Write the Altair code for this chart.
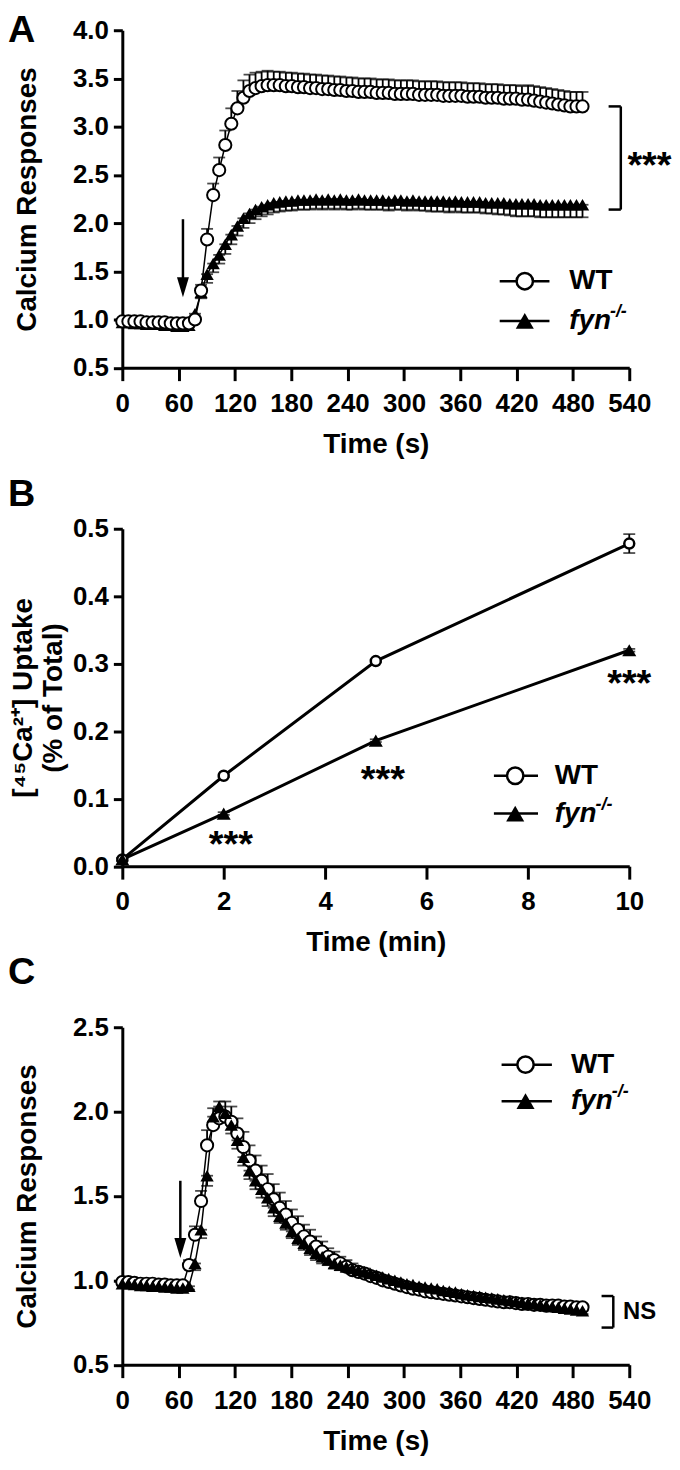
import altair as alt
import pandas as pd

FONT = "Liberation Sans"

# ---------------- shared sampling times (s) for panels A and C ----------------
time_s = [0, 6.5, 12.9, 19.4, 25.8, 32.3, 38.7, 45.2, 51.6, 58.1, 64.5,
          71.0, 77.4, 83.9, 90.3, 96.8, 103.2, 109.7, 116.1, 122.6, 129.0,
          135.5, 141.9, 148.4, 154.8, 161.3, 167.7, 174.2, 180.6, 187.1, 193.5,
          200.0, 206.4, 212.9, 219.3, 225.8, 232.2, 238.7, 245.1, 251.6, 258.0,
          264.5, 270.9, 277.4, 283.8, 290.3, 296.7, 303.2, 309.6, 316.1, 322.5,
          329.0, 335.4, 341.9, 348.3, 354.8, 361.2, 367.7, 374.1, 380.6, 387.0,
          393.5, 399.9, 406.4, 412.8, 419.3, 425.7, 432.2, 438.6, 445.1, 451.5,
          458.0, 464.4, 470.9, 477.3, 483.8, 490.2]

# ---------------- Panel A ----------------
a_wt = [0.98, 0.98, 0.98, 0.98, 0.97, 0.97, 0.97, 0.97, 0.96, 0.96, 0.96,
        0.96, 1.00, 1.30, 1.83, 2.29, 2.55, 2.81, 3.03, 3.19, 3.30,
        3.37, 3.40, 3.42, 3.43, 3.43, 3.43, 3.42, 3.42, 3.41, 3.41,
        3.40, 3.40, 3.39, 3.39, 3.38, 3.38, 3.37, 3.37, 3.36, 3.36,
        3.36, 3.35, 3.35, 3.35, 3.34, 3.34, 3.34, 3.34, 3.33, 3.33,
        3.33, 3.33, 3.32, 3.32, 3.32, 3.32, 3.31, 3.31, 3.31, 3.30,
        3.30, 3.30, 3.29, 3.29, 3.29, 3.28, 3.28, 3.27, 3.26, 3.25,
        3.24, 3.23, 3.22, 3.21, 3.21, 3.21]
a_wt_sem = [0.02, 0.02, 0.02, 0.02, 0.02, 0.02, 0.02, 0.02, 0.02, 0.02, 0.02,
            0.02, 0.03, 0.06, 0.11, 0.12, 0.13, 0.15, 0.16, 0.18, 0.18,
            0.17, 0.16, 0.15, 0.15, 0.14, 0.14, 0.14, 0.14, 0.14, 0.14,
            0.14, 0.14, 0.14, 0.14, 0.14, 0.14, 0.14, 0.14, 0.14, 0.14,
            0.14, 0.14, 0.14, 0.14, 0.14, 0.14, 0.14, 0.14, 0.14, 0.14,
            0.14, 0.14, 0.14, 0.14, 0.14, 0.14, 0.14, 0.14, 0.14, 0.14,
            0.14, 0.14, 0.14, 0.14, 0.14, 0.14, 0.15, 0.15, 0.15, 0.15,
            0.15, 0.15, 0.15, 0.15, 0.15, 0.15]
a_fyn = [0.97, 0.97, 0.96, 0.96, 0.95, 0.95, 0.95, 0.94, 0.94, 0.93, 0.93,
         0.94, 1.06, 1.28, 1.47, 1.58, 1.67, 1.78, 1.88, 1.97, 2.05,
         2.10, 2.14, 2.17, 2.19, 2.21, 2.22, 2.23, 2.23, 2.24, 2.24,
         2.24, 2.25, 2.24, 2.25, 2.24, 2.25, 2.24, 2.24, 2.25, 2.24,
         2.24, 2.24, 2.24, 2.23, 2.24, 2.24, 2.23, 2.24, 2.23, 2.23,
         2.23, 2.23, 2.23, 2.22, 2.23, 2.22, 2.22, 2.22, 2.22, 2.21,
         2.21, 2.21, 2.21, 2.20, 2.20, 2.20, 2.20, 2.20, 2.19, 2.19,
         2.19, 2.19, 2.19, 2.19, 2.19, 2.19]
a_fyn_sem = [0.02, 0.02, 0.02, 0.02, 0.02, 0.02, 0.02, 0.02, 0.02, 0.02, 0.02,
             0.02, 0.04, 0.06, 0.09, 0.09, 0.09, 0.10, 0.10, 0.10, 0.10,
             0.10, 0.10, 0.10, 0.10, 0.10, 0.10, 0.10, 0.10, 0.10, 0.10,
             0.10, 0.10, 0.10, 0.10, 0.10, 0.10, 0.10, 0.10, 0.10, 0.10,
             0.10, 0.10, 0.10, 0.10, 0.10, 0.10, 0.10, 0.10, 0.10, 0.10,
             0.11, 0.11, 0.11, 0.11, 0.11, 0.11, 0.11, 0.11, 0.11, 0.11,
             0.11, 0.12, 0.12, 0.12, 0.13, 0.13, 0.13, 0.13, 0.13, 0.13,
             0.13, 0.13, 0.13, 0.13, 0.13, 0.13]

# ---------------- Panel B ----------------
b_time = [0, 2, 5, 10]
b_wt = [0.010, 0.134, 0.304, 0.478]
b_wt_sem = [0.002, 0.002, 0.002, 0.014]
b_fyn = [0.010, 0.078, 0.186, 0.320]
b_fyn_sem = [0.002, 0.002, 0.002, 0.002]
b_star_t = [2.14, 5.14, 10.0]
b_star_v = [0.043, 0.139, 0.282]

# ---------------- Panel C ----------------
c_wt = [0.99, 0.99, 0.985, 0.98, 0.98, 0.98, 0.975, 0.975, 0.97, 0.97, 0.97,
        1.09, 1.27, 1.47, 1.80, 1.92, 1.96, 1.97, 1.94, 1.87, 1.79,
        1.71, 1.65, 1.59, 1.54, 1.48, 1.43, 1.39, 1.34, 1.30, 1.26,
        1.23, 1.20, 1.17, 1.14, 1.12, 1.10, 1.08, 1.06, 1.05, 1.04,
        1.025, 1.015, 1.00, 0.99, 0.98, 0.97, 0.96, 0.95, 0.945, 0.935,
        0.93, 0.925, 0.92, 0.915, 0.91, 0.905, 0.90, 0.895, 0.89, 0.885,
        0.88, 0.875, 0.87, 0.87, 0.865, 0.86, 0.86, 0.855, 0.855, 0.85,
        0.85, 0.85, 0.845, 0.845, 0.84, 0.84]
c_wt_sem = [0.01, 0.01, 0.01, 0.01, 0.01, 0.01, 0.01, 0.01, 0.01, 0.01, 0.01,
            0.03, 0.05, 0.06, 0.09, 0.10, 0.10, 0.09, 0.09, 0.09, 0.09,
            0.09, 0.09, 0.09, 0.09, 0.09, 0.09, 0.08, 0.08, 0.08, 0.07,
            0.07, 0.06, 0.06, 0.05, 0.05, 0.04, 0.04, 0.04, 0.03, 0.03,
            0.03, 0.03, 0.03, 0.03, 0.03, 0.02, 0.02, 0.02, 0.02, 0.02,
            0.02, 0.02, 0.02, 0.02, 0.02, 0.02, 0.02, 0.02, 0.02, 0.02,
            0.02, 0.02, 0.02, 0.02, 0.02, 0.02, 0.02, 0.02, 0.02, 0.02,
            0.02, 0.02, 0.02, 0.02, 0.02, 0.02]
c_fyn = [0.98, 0.98, 0.975, 0.97, 0.97, 0.965, 0.965, 0.96, 0.96, 0.955, 0.955,
         0.965, 1.10, 1.30, 1.62, 1.97, 2.03, 1.99, 1.92, 1.83, 1.73,
         1.65, 1.59, 1.54, 1.49, 1.43, 1.38, 1.34, 1.29, 1.25, 1.22,
         1.19, 1.16, 1.14, 1.12, 1.10, 1.09, 1.08, 1.07, 1.06, 1.05,
         1.04, 1.03, 1.02, 1.01, 1.00, 0.99, 0.98, 0.975, 0.965, 0.96,
         0.955, 0.95, 0.94, 0.935, 0.93, 0.92, 0.915, 0.91, 0.905, 0.90,
         0.895, 0.89, 0.885, 0.88, 0.875, 0.87, 0.865, 0.86, 0.855, 0.85,
         0.845, 0.84, 0.835, 0.83, 0.825, 0.82]
c_fyn_sem = [0.01, 0.01, 0.01, 0.01, 0.01, 0.01, 0.01, 0.01, 0.01, 0.01, 0.01,
             0.02, 0.04, 0.05, 0.06, 0.05, 0.05, 0.05, 0.05, 0.05, 0.05,
             0.05, 0.05, 0.05, 0.05, 0.05, 0.04, 0.04, 0.04, 0.04, 0.04,
             0.04, 0.04, 0.04, 0.03, 0.03, 0.03, 0.03, 0.03, 0.03, 0.03,
             0.03, 0.03, 0.03, 0.03, 0.03, 0.02, 0.02, 0.02, 0.02, 0.02,
             0.02, 0.02, 0.02, 0.02, 0.02, 0.02, 0.02, 0.02, 0.02, 0.02,
             0.02, 0.02, 0.02, 0.02, 0.02, 0.02, 0.02, 0.02, 0.02, 0.02,
             0.02, 0.02, 0.02, 0.02, 0.02, 0.02]

# ---------------- annotation anchors (data units) ----------------
a_legend_y = [1.397, 0.985]
a_legend_line = [402, 455]
a_legend_marker_t = 428.7
a_legend_text_t = 476
a_arrow_t = 64.6
a_arrow_shaft = [2.04, 1.42]
a_arrow_head = 1.335
a_bracket_t = [518, 531]
a_bracket_v = [2.14, 3.21]
a_star = [538, 2.67]

b_legend_y = [0.134, 0.078]
b_legend_line = [7.33, 8.2]
b_legend_marker_t = 7.75
b_legend_text_t = 8.53

c_legend_y = [2.278, 2.062]
c_legend_line = [404, 457.6]
c_legend_marker_t = 429.5
c_legend_text_t = 478
c_arrow_t = 61.8
c_arrow_shaft = [1.59, 1.25]
c_arrow_head = 1.192
c_bracket_t = [510.5, 523]
c_bracket_v = [0.72, 0.907]
c_ns = [533.4, 0.81]

ARROW_PATH = "M-0.6,-1L0.6,-1L0,1Z"


def axes(xdom, xvals, xtitle, ydom, yvals, ytitle, ypad, ylh=None):
    def xe(field="t"):
        return alt.X(field, type="quantitative",
                     scale=alt.Scale(domain=xdom, nice=False, zero=False),
                     axis=alt.Axis(values=xvals, title=xtitle, labelFlush=False,
                                   labelOverlap=False, titlePadding=14, format="d",
                                   tickSize=13, labelPadding=10))

    def ye(field="v"):
        kw = dict(values=yvals, title=ytitle, format=".1f", labelOverlap=False,
                  labelFlush=False, titlePadding=ypad, tickSize=9, labelPadding=5)
        if ylh:
            kw["titleLineHeight"] = ylh
        return alt.Y(field, type="quantitative",
                     scale=alt.Scale(domain=ydom, nice=False, zero=False),
                     axis=alt.Axis(**kw))
    return xe, ye


def series_df(t, v, sem, mode):
    lo, hi = [], []
    for a, b in zip(v, sem):
        if mode == "up":
            lo.append(a); hi.append(a + b)
        elif mode == "down":
            lo.append(a - b); hi.append(a)
        else:
            lo.append(a - b); hi.append(a + b)
    return pd.DataFrame({"t": t, "v": v, "lo": lo, "hi": hi})


def series_layers(xe, ye, dwt, dfyn, lw, wt_size, fyn_size, cap, wt_sw, fyn_on_top):
    layers = []
    for d in (dwt, dfyn):
        layers.append(alt.Chart(d).mark_line(color="black", strokeWidth=lw).encode(x=xe(), y=ye()))
    for d in (dwt, dfyn):
        layers.append(alt.Chart(d).mark_errorbar(ticks=True, size=cap, thickness=1.8, color="black")
                      .encode(x=xe(), y=ye("lo"), y2=alt.Y2("hi")))
    tri = alt.Chart(dfyn).mark_point(shape="triangle-up", filled=True, color="black",
                                     size=fyn_size, opacity=1).encode(x=xe(), y=ye())
    circ = alt.Chart(dwt).mark_point(shape="circle", filled=True, fill="white", stroke="black",
                                     strokeWidth=wt_sw, size=wt_size, opacity=1).encode(x=xe(), y=ye())
    layers += [circ, tri] if fyn_on_top else [tri, circ]
    return layers


def legend_layers(xe, ye, ys, line, mt, tt, dsup):
    lines = pd.DataFrame({"t": [line[0], line[0]], "t2": [line[1], line[1]], "v": ys})
    mk_wt = pd.DataFrame({"t": [mt], "v": [ys[0]]})
    mk_fyn = pd.DataFrame({"t": [mt], "v": [ys[1]]})
    txt_wt = pd.DataFrame({"t": [tt], "v": [ys[0]], "label": ["WT"]})
    txt_fyn = pd.DataFrame({"t": [tt], "v": [ys[1]], "label": ["fyn"]})
    txt_sup = pd.DataFrame({"t": [tt], "v": [ys[1]], "label": ["-/-"]})
    return [
        alt.Chart(lines).mark_rule(color="black", strokeWidth=2.5)
        .encode(x=xe(), x2=alt.X2("t2"), y=ye()),
        alt.Chart(mk_fyn).mark_point(shape="triangle-up", filled=True, color="black", size=330, opacity=1)
        .encode(x=xe(), y=ye()),
        alt.Chart(mk_wt).mark_point(shape="circle", filled=True, fill="white", stroke="black",
                                    strokeWidth=2.5, size=270, opacity=1).encode(x=xe(), y=ye()),
        alt.Chart(txt_wt).mark_text(font=FONT, fontSize=28, fontWeight="bold", align="left",
                                    baseline="middle", color="black").encode(x=xe(), y=ye(), text="label:N"),
        alt.Chart(txt_fyn).mark_text(font=FONT, fontSize=28, fontWeight="bold", fontStyle="italic",
                                     align="left", baseline="middle", color="black")
        .encode(x=xe(), y=ye(), text="label:N"),
        alt.Chart(txt_sup).mark_text(font=FONT, fontSize=18, fontWeight="bold", fontStyle="italic",
                                     align="left", baseline="middle", color="black", dx=dsup, dy=-9)
        .encode(x=xe(), y=ye(), text="label:N"),
    ]


def arrow_layers(xe, ye, t, shaft, head):
    sh = pd.DataFrame({"t": [t], "v": [shaft[0]], "v2": [shaft[1]]})
    hd = pd.DataFrame({"t": [t], "v": [head]})
    return [
        alt.Chart(sh).mark_rule(color="black", strokeWidth=2.5).encode(x=xe(), y=ye(), y2=alt.Y2("v2")),
        alt.Chart(hd).mark_point(shape=ARROW_PATH, filled=True, color="black", size=400, opacity=1)
        .encode(x=xe(), y=ye()),
    ]


def bracket_layers(xe, ye, bt, bv, label, lpos, lsize, ldy):
    vert = pd.DataFrame({"t": [bt[1]], "v": [bv[0]], "v2": [bv[1]]})
    arms = pd.DataFrame({"t": [bt[0], bt[0]], "t2": [bt[1], bt[1]], "v": bv})
    txt = pd.DataFrame({"t": [lpos[0]], "v": [lpos[1]], "label": [label]})
    return [
        alt.Chart(vert).mark_rule(color="black", strokeWidth=2.5).encode(x=xe(), y=ye(), y2=alt.Y2("v2")),
        alt.Chart(arms).mark_rule(color="black", strokeWidth=2.5).encode(x=xe(), x2=alt.X2("t2"), y=ye()),
        alt.Chart(txt).mark_text(font=FONT, fontSize=lsize, fontWeight="bold", align="left",
                                 baseline="middle", color="black", dy=ldy)
        .encode(x=xe(), y=ye(), text="label:N"),
    ]


def letter(txt, dy):
    return alt.TitleParams(text=txt, anchor="start", frame="group", dx=-115, dy=dy, fontSize=38,
                           font=FONT, fontWeight="bold", color="black", offset=2)


W, H = 510, 339.5
sec_ticks = [0, 60, 120, 180, 240, 300, 360, 420, 480, 540]

# ---------- A ----------
xa, ya = axes([0, 540], sec_ticks, "Time (s)", [0.5, 4.0],
              [0.5, 1.0, 1.5, 2.0, 2.5, 3.0, 3.5, 4.0], "Calcium Responses", 31)
dA_wt = series_df(time_s, a_wt, a_wt_sem, "up")
dA_fyn = series_df(time_s, a_fyn, a_fyn_sem, "down")
A = alt.layer(
    *series_layers(xa, ya, dA_wt, dA_fyn, 1.5, 150, 180, 12, 2, False),
    *arrow_layers(xa, ya, a_arrow_t, a_arrow_shaft, a_arrow_head),
    *bracket_layers(xa, ya, a_bracket_t, a_bracket_v, "***", a_star, 38, 9),
    *legend_layers(xa, ya, a_legend_y, a_legend_line, a_legend_marker_t, a_legend_text_t, 41),
).properties(width=W, height=H, title=letter("A", 35))

# ---------- B ----------
xb, yb = axes([0, 10], [0, 2, 4, 6, 8, 10], "Time (min)", [0.0, 0.5],
              [0.0, 0.1, 0.2, 0.3, 0.4, 0.5], ["[\u2074\u2075Ca\u00b2\u207a] Uptake", "(% of Total)"], 5, 30)
dB_wt = series_df(b_time, b_wt, b_wt_sem, "both")
dB_fyn = series_df(b_time, b_fyn, b_fyn_sem, "both")
stars_b = pd.DataFrame({"t": b_star_t, "v": b_star_v, "label": ["***"] * len(b_star_t)})
B = alt.layer(
    *series_layers(xb, yb, dB_wt, dB_fyn, 3, 100, 200, 12, 2.5, True),
    alt.Chart(stars_b).mark_text(font=FONT, fontSize=38, fontWeight="bold", align="center",
                                 baseline="middle", color="black", dy=9)
    .encode(x=xb(), y=yb(), text="label:N"),
    *legend_layers(xb, yb, b_legend_y, b_legend_line, b_legend_marker_t, b_legend_text_t, 41),
).properties(width=W, height=H, title=letter("B", 0))

# ---------- C ----------
xc, yc = axes([0, 540], sec_ticks, "Time (s)", [0.5, 2.5],
              [0.5, 1.0, 1.5, 2.0, 2.5], "Calcium Responses", 31)
dC_wt = series_df(time_s, c_wt, c_wt_sem, "up")
dC_fyn = series_df(time_s, c_fyn, c_fyn_sem, "down")
C = alt.layer(
    *series_layers(xc, yc, dC_wt, dC_fyn, 1.5, 150, 180, 12, 2, True),
    *arrow_layers(xc, yc, c_arrow_t, c_arrow_shaft, c_arrow_head),
    *bracket_layers(xc, yc, c_bracket_t, c_bracket_v, "NS", c_ns, 24, 0),
    *legend_layers(xc, yc, c_legend_y, c_legend_line, c_legend_marker_t, c_legend_text_t, 41),
).properties(width=W, height=H, title=letter("C", -20))

chart = alt.vconcat(A, B, C, spacing=161.5, bounds="flush", padding=0).configure_view(
    stroke=None
).configure_axis(
    domainColor="black", domainWidth=3, tickColor="black", tickWidth=3,
    labelFont=FONT, labelFontSize=26, labelFontWeight="bold", labelColor="black",
    titleFont=FONT, titleFontSize=28, titleFontWeight="bold", titleColor="black", grid=False,
)

chart.save("out.html", embed_options={"renderer": "svg", "actions": False})
